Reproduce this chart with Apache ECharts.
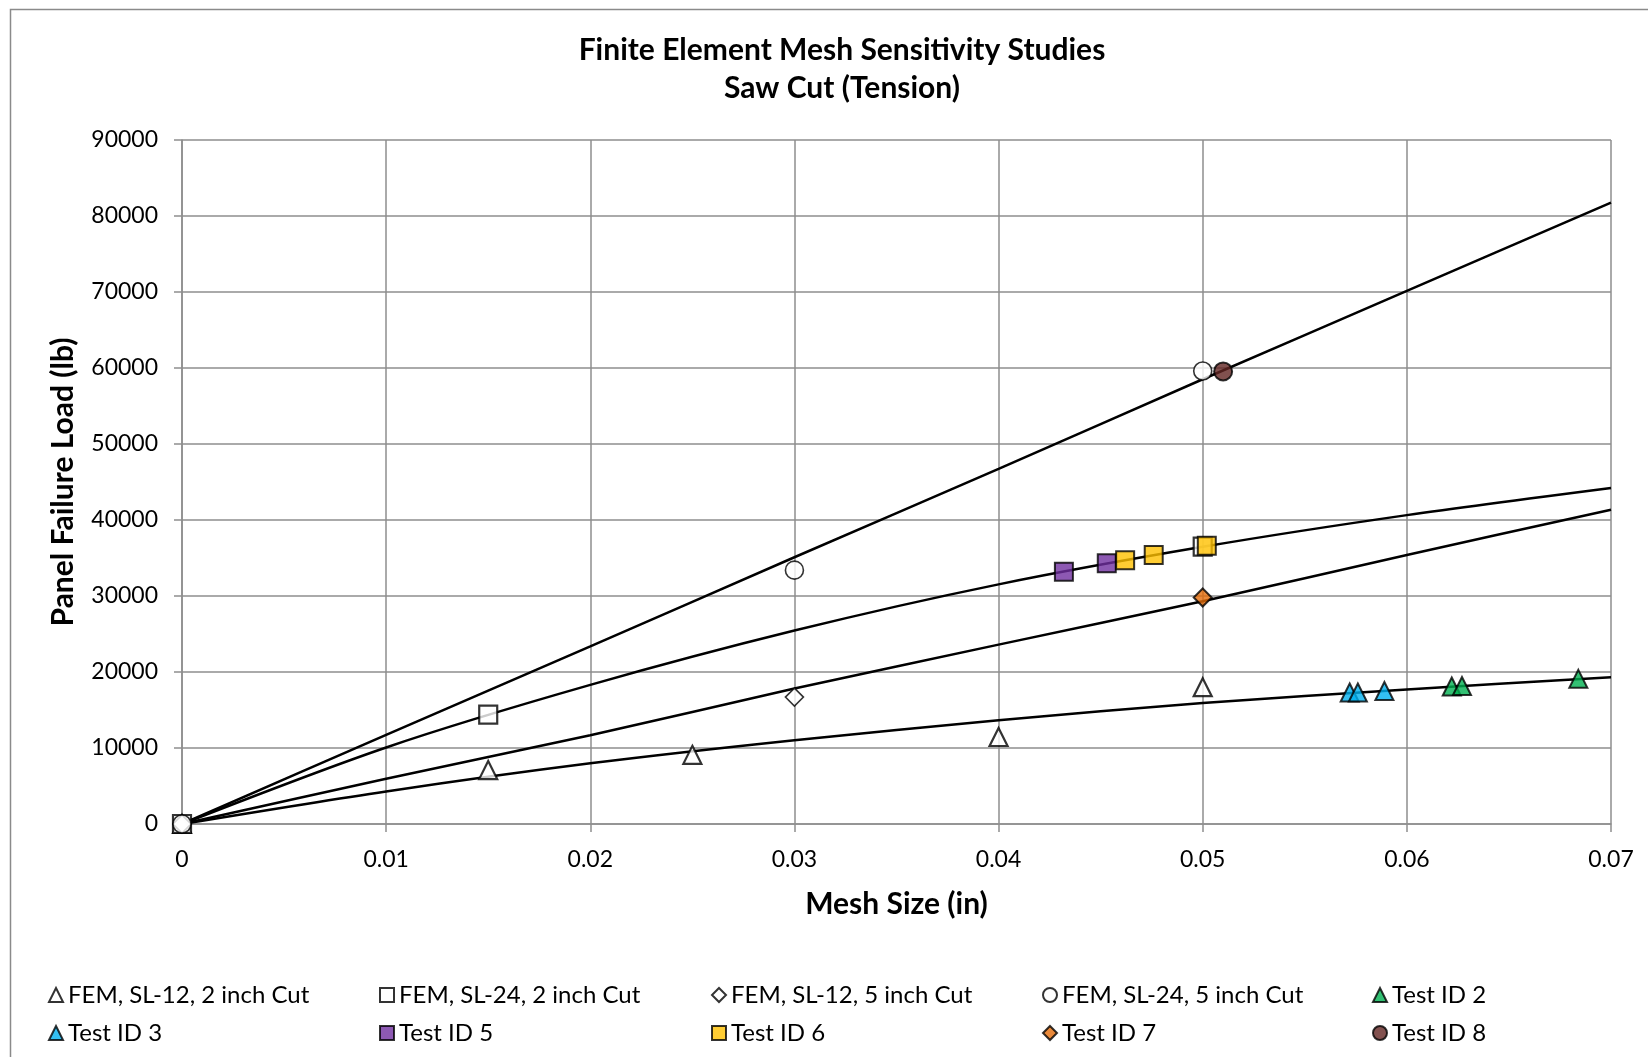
<!DOCTYPE html>
<html>
<head>
<meta charset="utf-8">
<title>Finite Element Mesh Sensitivity Studies</title>
<script src="https://cdn.jsdelivr.net/npm/echarts/dist/echarts.min.js"></script>
<style>
  html, body { margin: 0; padding: 0; background: #fff; }
  #chart { width: 1648px; height: 1057px; }
</style>
</head>
<body>
<div id="chart"></div>
<script>
// trendline readings (x every 0.01 in)
const trendX = [0, 0.01, 0.02, 0.03, 0.04, 0.05, 0.06, 0.07];
const trendSL24_5 = [0, 11740, 23360, 35100, 46720, 58520, 70140, 81760];
const trendSL24_2 = [0, 10070, 18300, 25450, 31530, 36470, 40640, 44220];
const trendSL12_5 = [0, 5960, 11680, 17820, 23600, 29320, 35400, 41360];
const trendSL12_2 = [0, 4290, 7990, 11030, 13650, 15910, 17700, 19310];

// FEM results
const fem12_2X = [0, 0.015, 0.025, 0.04, 0.05];
const fem12_2Y = [0, 7100, 9100, 11450, 18000];
const fem24_2X = [0, 0.015, 0.05];
const fem24_2Y = [0, 14400, 36500];
const fem12_5X = [0, 0.03];
const fem12_5Y = [0, 16700];
const fem24_5X = [0, 0.03, 0.05];
const fem24_5Y = [0, 33400, 59600];

// tests
const test2X = [0.0622, 0.0627, 0.0684];
const test2Y = [18100, 18150, 19100];
const test3X = [0.0572, 0.0576, 0.0589];
const test3Y = [17300, 17300, 17500];
const test5X = [0.0432, 0.0453];
const test5Y = [33200, 34300];
const test6X = [0.0462, 0.0476, 0.0502];
const test6Y = [34700, 35400, 36600];
const test7X = [0.05];
const test7Y = [29800];
const test8X = [0.051];
const test8Y = [59550];

const xTicks = [0, 0.01, 0.02, 0.03, 0.04, 0.05, 0.06, 0.07];

const FONT = 'Lato';
const GRID_COLOR = '#8e8e8e';

const zip = (xs, ys) => xs.map((x, i) => [x, ys[i]]);

const trend = (data) => ({
    type: 'line',
    data: zip(trendX, data),
    showSymbol: false,
    smooth: 0.3,
    lineStyle: { color: '#000', width: 2.5 },
    silent: true,
    z: 2,
});

const points = (name, xs, ys, symbol, fill, borderWidth) => ({
    name: name,
    type: 'scatter',
    data: zip(xs, ys),
    symbol: symbol,
    symbolSize: 18,
    itemStyle: { color: fill, borderColor: '#000', borderWidth: borderWidth },
    z: 3,
});

const legendText = { fontFamily: FONT, fontSize: 24, color: '#000', lineHeight: 22 };
const legendCol = (left, names) => ({
    orient: 'vertical',
    left: left,
    top: 983,
    itemWidth: 14,
    itemHeight: 14,
    itemGap: 14,
    padding: 0,
    textStyle: legendText,
    data: names,
});

const myChart = echarts.init(document.getElementById('chart'));
myChart.setOption({
    animation: false,
    title: {
        text: 'Finite Element Mesh Sensitivity Studies\nSaw Cut (Tension)',
        left: 837,
        top: 26,
        textAlign: 'center',
        textStyle: { fontFamily: FONT, fontSize: 30, fontWeight: 'bold', color: '#000', lineHeight: 38 },
    },
    graphic: [
        {
            type: 'rect',
            shape: { x: 10.5, y: 9.5, width: 1700, height: 1100 },
            style: { fill: 'none', stroke: '#8a8a8a', lineWidth: 1.5 },
            silent: true,
        },
    ],
    grid: { left: 182, right: 37, top: 140, bottom: 233 },
    xAxis: {
        type: 'value',
        min: xTicks[0],
        max: xTicks[xTicks.length - 1],
        interval: 0.01,
        name: 'Mesh Size (in)',
        nameLocation: 'middle',
        nameGap: 65,
        nameTextStyle: { fontFamily: FONT, fontSize: 30, fontWeight: 'bold', color: '#000' },
        axisLine: { show: true, lineStyle: { color: GRID_COLOR, width: 1.5 } },
        axisTick: { show: true, length: 8, lineStyle: { color: GRID_COLOR, width: 1.5 } },
        splitLine: { show: true, lineStyle: { color: GRID_COLOR, width: 1.5 } },
        axisLabel: {
            fontFamily: FONT, fontSize: 23, color: '#000', margin: 24,
            formatter: (v) => String(+v.toFixed(2)),
        },
    },
    yAxis: {
        type: 'value',
        min: 0,
        max: 90000,
        interval: 10000,
        name: 'Panel Failure Load (lb)',
        nameLocation: 'middle',
        nameGap: 104,
        nameTextStyle: { fontFamily: FONT, fontSize: 30, fontWeight: 'bold', color: '#000' },
        axisLine: { show: true, lineStyle: { color: GRID_COLOR, width: 1.5 } },
        axisTick: { show: true, length: 8, lineStyle: { color: GRID_COLOR, width: 1.5 } },
        splitLine: { show: true, lineStyle: { color: GRID_COLOR, width: 1.5 } },
        axisLabel: {
            fontFamily: FONT, fontSize: 23, color: '#000', margin: 24,
            formatter: (v) => String(v),
        },
    },
    legend: [
        legendCol(48, ['FEM, SL-12, 2 inch Cut', 'Test ID 3']),
        legendCol(379, ['FEM, SL-24, 2 inch Cut', 'Test ID 5']),
        legendCol(711, ['FEM, SL-12, 5 inch Cut', 'Test ID 6']),
        legendCol(1042, ['FEM, SL-24, 5 inch Cut', 'Test ID 7']),
        legendCol(1372, ['Test ID 2', 'Test ID 8']),
    ],
    series: [
        trend(trendSL24_5),
        trend(trendSL24_2),
        trend(trendSL12_5),
        trend(trendSL12_2),
        points('FEM, SL-12, 2 inch Cut', fem12_2X, fem12_2Y, 'triangle', '#fff', 2.2),
        points('FEM, SL-24, 2 inch Cut', fem24_2X, fem24_2Y, 'rect', '#fff', 2.2),
        points('FEM, SL-12, 5 inch Cut', fem12_5X, fem12_5Y, 'diamond', '#fff', 1.6),
        points('FEM, SL-24, 5 inch Cut', fem24_5X, fem24_5Y, 'circle', '#fff', 1.6),
        points('Test ID 2', test2X, test2Y, 'triangle', '#00B050', 2),
        points('Test ID 3', test3X, test3Y, 'triangle', '#00B0F0', 2),
        points('Test ID 5', test5X, test5Y, 'rect', '#7030A0', 2),
        points('Test ID 6', test6X, test6Y, 'rect', '#FFC000', 2),
        points('Test ID 7', test7X, test7Y, 'diamond', '#E36C09', 2),
        points('Test ID 8', test8X, test8Y, 'circle', '#632523', 2),
    ],
});

window.addEventListener('resize', myChart.resize);
</script>
</body>
</html>
